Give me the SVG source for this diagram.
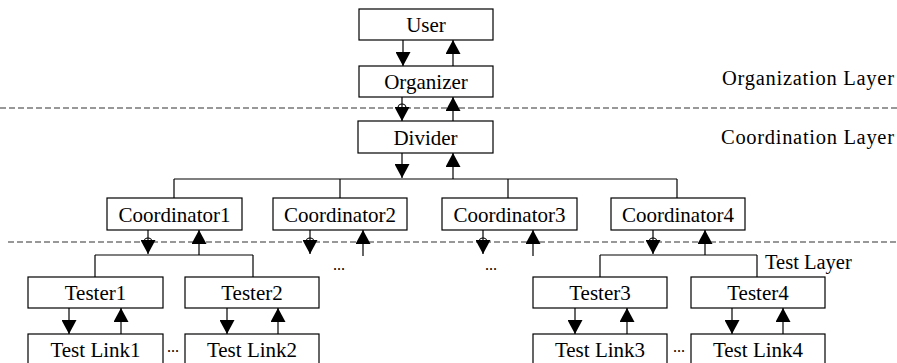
<svg xmlns="http://www.w3.org/2000/svg" width="897" height="363" viewBox="0 0 897 363" font-family="'Liberation Serif', 'Times New Roman', serif">
<style>
text{font-family:'Liberation Serif','Times New Roman',serif}
.box rect{fill:#fff;stroke:#000;stroke-width:1.2}
.box text{font-size:21px;text-anchor:middle;fill:#000}
.lbl{font-size:20.5px;fill:#000}
.c line,.c path{stroke:#000;stroke-width:1.2;fill:none}
.dash{stroke:#333;stroke-width:1.2;stroke-dasharray:6 3}
.dots{font-size:16px;fill:#000;text-anchor:middle}
</style>
<defs>
<marker id="ah" viewBox="0 0 14 15" refX="14" refY="7.5" markerWidth="14" markerHeight="15" markerUnits="userSpaceOnUse" orient="auto">
<path d="M0,0 L14,7.5 L0,15 z" fill="#000"/>
</marker>
</defs>
<rect width="897" height="363" fill="#fff"/>
<line class="dash" x1="0" y1="108" x2="897" y2="108"/>
<line class="dash" x1="8" y1="242" x2="897" y2="242"/>
<text class="lbl" x="894" y="85" text-anchor="end" textLength="172" lengthAdjust="spacing">Organization Layer</text>
<text class="lbl" x="894" y="144" text-anchor="end" textLength="173" lengthAdjust="spacing">Coordination Layer</text>
<text class="lbl" x="765" y="269">Test Layer</text>
<g id="connectors" class="c">
<line x1="403" y1="40" x2="403" y2="66" marker-end="url(#ah)"/>
<line x1="453" y1="66" x2="453" y2="40" marker-end="url(#ah)"/>
<line x1="402" y1="97" x2="402" y2="121" marker-end="url(#ah)"/>
<path d="M398,108 A4,4 0 0 1 406,108"/>
<line x1="453" y1="121" x2="453" y2="97" marker-end="url(#ah)"/>
<line x1="402" y1="153" x2="402" y2="178" marker-end="url(#ah)"/>
<line x1="453" y1="179" x2="453" y2="153" marker-end="url(#ah)"/>
<line x1="174" y1="179" x2="677" y2="179"/>
<line x1="174" y1="179" x2="174" y2="198"/>
<line x1="340" y1="179" x2="340" y2="198"/>
<line x1="508" y1="179" x2="508" y2="198"/>
<line x1="677" y1="179" x2="677" y2="198"/>
<line x1="148" y1="230" x2="148" y2="254" marker-end="url(#ah)"/>
<path d="M144,242 A4,4 0 0 1 152,242"/>
<line x1="199" y1="255" x2="199" y2="230" marker-end="url(#ah)"/>
<line x1="310" y1="230" x2="310" y2="254" marker-end="url(#ah)"/>
<path d="M306,242 A4,4 0 0 1 314,242"/>
<line x1="363" y1="256" x2="363" y2="230" marker-end="url(#ah)"/>
<line x1="483" y1="230" x2="483" y2="254" marker-end="url(#ah)"/>
<path d="M479,242 A4,4 0 0 1 487,242"/>
<line x1="533" y1="256" x2="533" y2="230" marker-end="url(#ah)"/>
<line x1="653" y1="230" x2="653" y2="254" marker-end="url(#ah)"/>
<path d="M649,242 A4,4 0 0 1 657,242"/>
<line x1="705" y1="255" x2="705" y2="230" marker-end="url(#ah)"/>
<line x1="95" y1="255" x2="253" y2="255"/>
<line x1="95" y1="255" x2="95" y2="277"/>
<line x1="253" y1="255" x2="253" y2="277"/>
<line x1="600" y1="255" x2="757" y2="255"/>
<line x1="600" y1="255" x2="600" y2="277"/>
<line x1="757" y1="255" x2="757" y2="277"/>
<line x1="69" y1="308" x2="69" y2="334" marker-end="url(#ah)"/>
<line x1="121" y1="334" x2="121" y2="308" marker-end="url(#ah)"/>
<line x1="227" y1="308" x2="227" y2="334" marker-end="url(#ah)"/>
<line x1="278" y1="334" x2="278" y2="308" marker-end="url(#ah)"/>
<line x1="575" y1="308" x2="575" y2="334" marker-end="url(#ah)"/>
<line x1="627" y1="334" x2="627" y2="308" marker-end="url(#ah)"/>
<line x1="732" y1="308" x2="732" y2="334" marker-end="url(#ah)"/>
<line x1="783" y1="334" x2="783" y2="308" marker-end="url(#ah)"/>
</g>
<text class="dots" x="339" y="270">...</text>
<text class="dots" x="491" y="270">...</text>
<text class="dots" x="173" y="352">...</text>
<text class="dots" x="679" y="352">...</text>
<g id="user" class="box"><rect x="359" y="9" width="134" height="31"/><text x="426" y="32">User</text></g>
<g id="organizer" class="box"><rect x="359" y="66" width="134" height="31"/><text x="426" y="89">Organizer</text></g>
<g id="divider" class="box"><rect x="358" y="121" width="135" height="32"/><text x="425.5" y="145">Divider</text></g>
<g id="coordinator1" class="box"><rect x="107" y="198" width="135" height="32"/><text x="174.5" y="222">Coordinator1</text></g>
<g id="coordinator2" class="box"><rect x="273" y="198" width="134" height="32"/><text x="340" y="222">Coordinator2</text></g>
<g id="coordinator3" class="box"><rect x="442" y="198" width="135" height="32"/><text x="509.5" y="222">Coordinator3</text></g>
<g id="coordinator4" class="box"><rect x="611" y="198" width="134" height="32"/><text x="678" y="222">Coordinator4</text></g>
<g id="tester1" class="box"><rect x="28" y="277" width="135" height="31"/><text x="95.5" y="300">Tester1</text></g>
<g id="tester2" class="box"><rect x="185" y="277" width="134" height="31"/><text x="252" y="300">Tester2</text></g>
<g id="tester3" class="box"><rect x="533" y="277" width="134" height="31"/><text x="600" y="300">Tester3</text></g>
<g id="tester4" class="box"><rect x="691" y="277" width="134" height="31"/><text x="758" y="300">Tester4</text></g>
<g id="testlink1" class="box"><rect x="28" y="334" width="135" height="34"/><text x="95.5" y="357">Test Link1</text></g>
<g id="testlink2" class="box"><rect x="185" y="334" width="134" height="34"/><text x="252" y="357">Test Link2</text></g>
<g id="testlink3" class="box"><rect x="533" y="334" width="134" height="34"/><text x="600" y="357">Test Link3</text></g>
<g id="testlink4" class="box"><rect x="691" y="334" width="134" height="34"/><text x="758" y="357">Test Link4</text></g>
</svg>
